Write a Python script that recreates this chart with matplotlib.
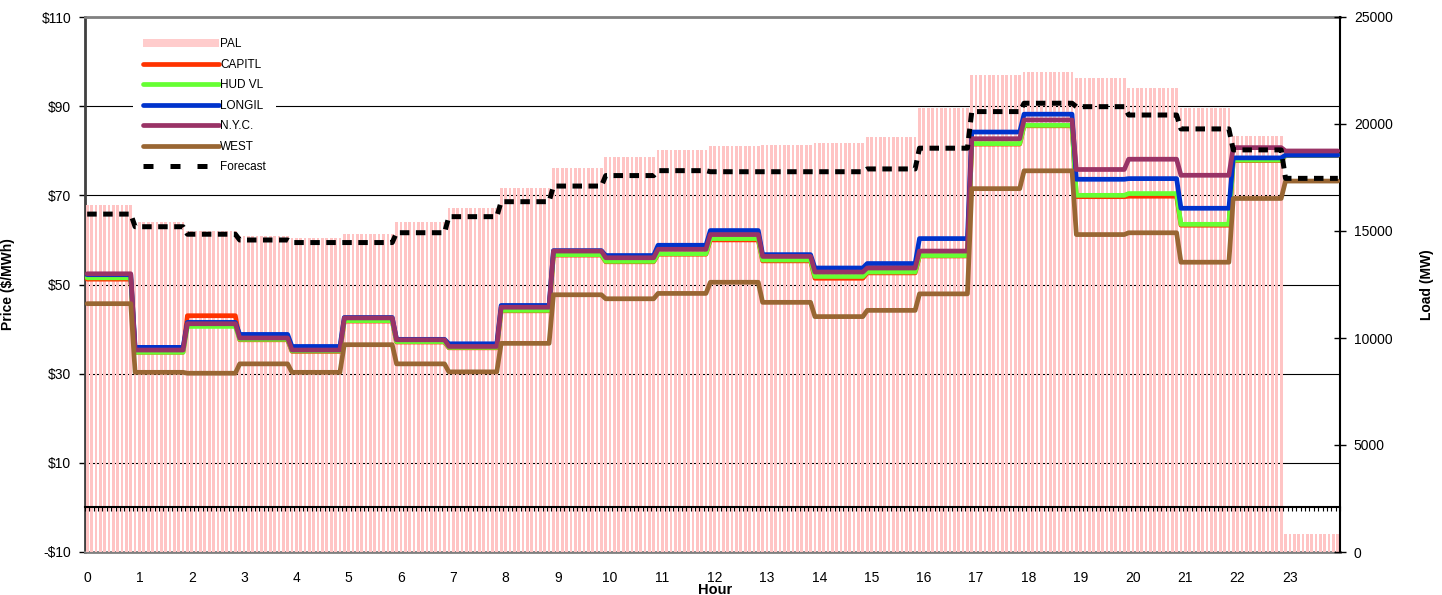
import numpy as np
import matplotlib
matplotlib.use('Agg')
import matplotlib.pyplot as plt
from matplotlib.ticker import FixedLocator, FuncFormatter
from matplotlib.lines import Line2D
from matplotlib.patches import Patch

plt.rcParams['font.family'] = ['Liberation Sans', 'DejaVu Sans']

# hourly values, shown on a 5-minute grid
hours = list(range(24))
pal = [16200, 15430, 15000, 14770, 14660, 14860, 15430, 16060, 17020, 17930, 18470, 18790,
       18970, 19020, 19100, 19410, 20730, 22290, 22440, 22140, 21670, 20730, 19440, 830]
forecast = [15790, 15200, 14850, 14580, 14460, 14460, 14920, 15670, 16370, 17100, 17590, 17820,
            17770, 17770, 17770, 17900, 18870, 20580, 20970, 20810, 20420, 19770, 18790, 17460]
capitl = [51.2, 34.8, 43.0, 37.6, 35.0, 41.8, 37.1, 35.8, 44.1, 56.6, 55.1, 56.8,
          60.0, 55.3, 51.4, 52.6, 56.4, 81.5, 85.6, 69.7, 69.8, 63.3, 77.8, 78.9]
hud_vl = [51.5, 34.8, 40.6, 37.7, 35.1, 41.9, 37.2, 35.9, 44.2, 56.7, 55.2, 56.9,
          60.3, 55.5, 51.8, 52.8, 56.5, 81.6, 85.7, 70.0, 70.4, 63.5, 77.9, 79.0]
longil = [52.2, 35.9, 41.5, 38.8, 36.1, 42.6, 37.7, 36.7, 45.3, 57.6, 56.5, 58.8,
          62.1, 56.7, 53.7, 54.7, 60.3, 84.2, 88.2, 73.6, 73.75, 67.1, 78.4, 79.0]
nyc = [52.4, 35.3, 41.2, 38.0, 35.3, 42.5, 37.6, 36.1, 44.9, 57.5, 56.0, 57.9,
       61.2, 56.3, 52.8, 53.7, 57.5, 82.7, 86.9, 75.8, 78.1, 74.5, 80.7, 79.95]
west = [45.7, 30.3, 30.1, 32.2, 30.3, 36.5, 32.2, 30.4, 36.8, 47.7, 46.8, 48.0,
        50.5, 46.0, 42.8, 44.2, 47.9, 71.5, 75.5, 61.2, 61.6, 55.0, 69.3, 73.2]

n = 288
t = np.arange(n) / 12.0
hidx = np.minimum((np.arange(n) + 1) // 12, 23)

def expand(v):
    return np.array(v, dtype=float)[hidx]

fig = plt.figure(figsize=(14.42, 5.95), dpi=100)
ax = fig.add_axes([85 / 1442, 1 - 552 / 595, 1255 / 1442, 535 / 595])
axl = ax.twinx()
axp = ax.twinx()
axf = ax.twinx()

xlim = (-0.5 / 12, (n - 0.5) / 12)
plim = (-10, 110)
llim = (0, 25000)

# price axis (left) with grid
ax.set_xlim(xlim)
ax.set_ylim(plim)
ax.yaxis.set_major_locator(FixedLocator(np.arange(-10, 111, 20)))
ax.yaxis.set_major_formatter(FuncFormatter(lambda v, p: ('-$%d' % -v) if v < 0 else '$%d' % v))
ax.grid(axis='y', color='black', linewidth=0.8)
ax.tick_params(axis='y', direction='out', length=4, width=1, pad=6, labelsize=10)
ax.set_xticks(hours)
ax.tick_params(axis='x', length=0, pad=14, labelsize=10)
ax.set_xlabel('Hour', fontsize=10.5, fontweight='bold')
ax.xaxis.set_label_coords(0.502, -0.058)
ax.set_ylabel('Price ($/MWh)', fontsize=10, fontweight='bold')
ax.yaxis.set_label_coords(-0.056, 0.5)
ax.spines['left'].set_color('#404040')
ax.spines['left'].set_linewidth(2)
ax.spines['top'].set_color('#808080')
ax.spines['top'].set_linewidth(2)
ax.spines['bottom'].set_color('#808080')
ax.spines['bottom'].set_linewidth(2)
ax.spines['right'].set_visible(False)

# load axis (right) with PAL bars
axl.set_ylim(llim)
axl.bar(t, expand(pal), width=0.62 / 12, color='#FFC4C4', linewidth=0, label='PAL')
axl.yaxis.set_major_locator(FixedLocator(np.arange(0, 25001, 5000)))
axl.tick_params(axis='y', direction='inout', length=8, width=1, pad=6, labelsize=10)
axl.set_ylabel('Load (MW)', fontsize=10, fontweight='bold')
axl.yaxis.set_label_coords(1.064, 0.5)
for s in ['left', 'top', 'bottom']:
    axl.spines[s].set_visible(False)
axl.spines['right'].set_color('black')
axl.spines['right'].set_linewidth(1.5)

# price lines
axp.set_ylim(plim)
axp.set_xlim(xlim)
axp.set_yticks([])
for s in axp.spines.values():
    s.set_visible(False)
series = [('CAPITL', capitl, '#FF3300'), ('HUD VL', hud_vl, '#66FF33'),
          ('LONGIL', longil, '#0033CC'), ('N.Y.C.', nyc, '#993366'),
          ('WEST', west, '#996633')]
handles = [Patch(facecolor='#FFCCCC', edgecolor='none', label='PAL')]
for name, vals, col in series:
    ln, = axp.plot(t, expand(vals), color=col, linewidth=3.4, label=name,
                   solid_joinstyle='round', solid_capstyle='round')
    handles.append(ln)

# zero line of the category axis with small ticks
sec = axp.secondary_xaxis(10 / 120)
sec.set_xticks([])
sec.set_xticks((np.arange(n + 1) - 0.5) / 12, minor=True)
sec.tick_params(which='minor', direction='out', length=3, width=0.8, color='black')
sec.spines['bottom'].set_linewidth(1.5)
sec.spines['bottom'].set_color('black')

# forecast on load scale, on top
axf.set_ylim(llim)
axf.set_xlim(xlim)
axf.set_yticks([])
for s in axf.spines.values():
    s.set_visible(False)
axf.plot(t, expand(forecast), color='black', linewidth=3.6,
         linestyle=(0, (1.9, 1.3)))
handles.append(Line2D([], [], color='black', linewidth=3.6,
                      linestyle=(0, (2.0, 3.4)), label='Forecast'))

leg = axf.legend(handles=handles, loc='upper left', bbox_to_anchor=(0.038, 0.98),
                 frameon=True, fancybox=False, edgecolor='none', facecolor='white',
                 framealpha=1, fontsize=8.5, handlelength=6.4, handleheight=0.6,
                 handletextpad=0.1, labelspacing=0.72, borderpad=0.9, borderaxespad=0)

fig.savefig('out.png', dpi=100)
